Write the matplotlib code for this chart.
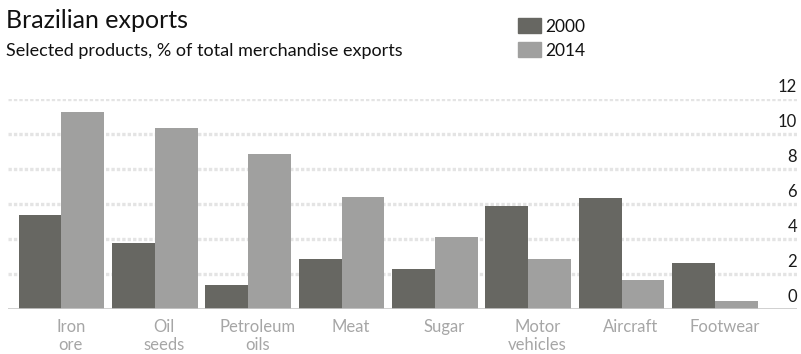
import matplotlib
matplotlib.use("Agg")
import matplotlib.pyplot as plt
import matplotlib.transforms as mtransforms
from matplotlib.patches import Rectangle
import numpy as np

plt.rcParams['font.family'] = ['Lato', 'DejaVu Sans']
plt.rcParams['lines.scale_dashes'] = False

# Share of total merchandise exports, %
categories = ["Iron\nore", "Oil\nseeds", "Petroleum\noils", "Meat", "Sugar",
              "Motor\nvehicles", "Aircraft", "Footwear"]
years = ["2000", "2014"]
share_2000 = [5.4, 3.8, 1.4, 2.9, 2.3, 5.9, 6.35, 2.65]
share_2014 = [11.25, 10.35, 8.9, 6.4, 4.15, 2.9, 1.7, 0.45]
y_ticks = [0, 2, 4, 6, 8, 10, 12]

colors = {"2000": "#676762", "2014": "#a0a09f"}

W, H = 801, 354
fig = plt.figure(figsize=(W / 100, H / 100), dpi=100)

# axes placed in pixel terms: baseline at y=309, top grid line at y=99
ax = fig.add_axes([8 / W, (H - 309.3) / H, (797 - 8) / W, 210 / H])

x = np.arange(len(categories))
bw = 0.46
ax.bar(x - bw / 2, share_2000, width=bw, color=colors["2000"], zorder=3)
ax.bar(x + bw / 2, share_2014, width=bw, color=colors["2014"], zorder=3)

ax.set_xlim(-0.573, 7.88)
ax.set_ylim(0, 12)

# dotted grid lines, solid baseline
for t in y_ticks[1:]:
    ax.axhline(t, color="#e4e4e4", lw=2.4, dashes=(2.4, 1.5), zorder=1)
ax.axhline(0, color="#c8c8c8", lw=1.2, zorder=4)

# value labels sit above their grid lines at the right edge
lab_tr = mtransforms.offset_copy(ax.get_yaxis_transform(), fig=fig, x=0, y=3, units="points")
for t in y_ticks:
    ax.text(1.0, t, str(t), transform=lab_tr, ha="right", va="bottom",
            fontsize=12, color="#1a1a1a", clip_on=False)

ax.set_yticks([])
ax.set_xticks(x + 0.1)
ax.set_xticklabels(categories, fontsize=12, color="#a6a6a6", linespacing=1.15)
ax.tick_params(axis="x", length=0, pad=7)
for s in ax.spines.values():
    s.set_visible(False)

fig.text(6 / W, 1 - 28 / H, "Brazilian exports", fontsize=18, color="#111111",
         ha="left", va="baseline")
fig.text(6 / W, 1 - 56 / H, "Selected products, % of total merchandise exports",
         fontsize=13, color="#111111", ha="left", va="baseline")

# legend swatches
for i, yr in enumerate(years):
    top = 18 + 24 * i
    fig.patches.append(Rectangle((518 / W, 1 - (top + 15) / H), 23 / W, 15 / H,
                                 transform=fig.transFigure, color=colors[yr]))
    fig.text(545 / W, 1 - (top + 14) / H, yr, fontsize=12.5, color="#111111",
             ha="left", va="baseline")

fig.savefig("out.png", dpi=100)
